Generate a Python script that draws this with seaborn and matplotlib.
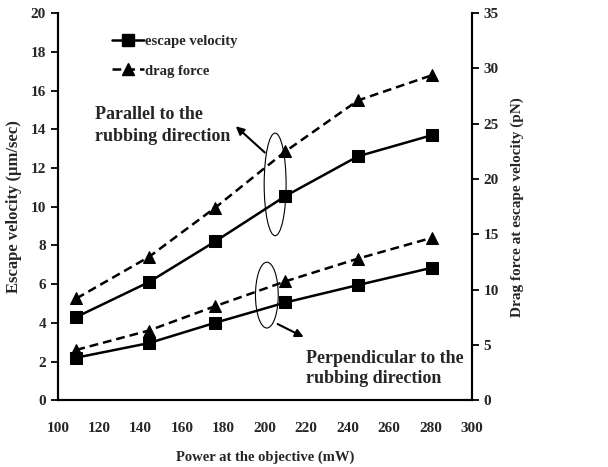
import matplotlib
matplotlib.use('Agg')
import matplotlib.pyplot as plt
import seaborn as sns
from matplotlib.patches import Ellipse
from matplotlib.lines import Line2D

sns.set_theme(style="white")
plt.rcParams['font.family'] = ['Liberation Serif', 'DejaVu Serif']
plt.rcParams['font.weight'] = 'bold'

power = [109, 144, 176, 210, 245, 281]
vel_parallel = [4.3, 6.1, 8.2, 10.55, 12.6, 13.7]
vel_perp = [2.2, 2.95, 4.0, 5.05, 5.95, 6.85]
drag_parallel = [9.2, 12.95, 17.4, 22.5, 27.1, 29.4]
drag_perp = [4.55, 6.3, 8.5, 10.75, 12.8, 14.7]

fig = plt.figure(figsize=(6.08, 4.67), dpi=100)
ax = fig.add_axes([0.095, 0.143, 0.681, 0.829])
ax2 = ax.twinx()

# escape velocity (left axis)
for v in (vel_parallel, vel_perp):
    sns.lineplot(x=power, y=v, ax=ax, color='black', lw=1.8, marker='s',
                 markersize=8, markeredgecolor='black')
# drag force (right axis)
for d in (drag_parallel, drag_perp):
    sns.lineplot(x=power, y=d, ax=ax2, color='black', lw=1.8, ls=(0, (3.5, 2)),
                 marker='^', markersize=8, markeredgecolor='black')

ax.set_xlim(100, 300)
ax.set_ylim(0, 20)
ax2.set_ylim(0, 35)
ax.set_xticks(range(100, 301, 20))
ax.set_yticks(range(0, 21, 2))
ax2.set_yticks(range(0, 36, 5))

for a in (ax, ax2):
    a.spines['top'].set_visible(False)
    for s in a.spines.values():
        s.set_color('black')
        s.set_linewidth(1.5)
    a.tick_params(labelsize=11, length=5, width=1.3, color='black')
ax.tick_params(axis='x', direction='inout', pad=13)
ax.tick_params(axis='y', direction='out')
ax2.tick_params(axis='y', direction='out')
for lab in ax.get_xticklabels() + ax.get_yticklabels() + ax2.get_yticklabels():
    lab.set_fontweight('bold')

ax.set_xlabel('Power at the objective (mW)', fontsize=10.5, fontweight='bold', labelpad=11)
ax.set_ylabel('Escape velocity (μm/sec)', fontsize=12, fontweight='bold', labelpad=6)
ax2.set_ylabel('Drag force at escape velocity (pN)', fontsize=11, fontweight='bold', labelpad=8)

handles = [Line2D([], [], color='black', lw=1.8, marker='s', markersize=8),
           Line2D([], [], color='black', lw=1.8, ls=(0, (3.5, 2)), marker='^', markersize=8)]
ax.legend(handles, ['escape velocity', 'drag force'], loc='upper left',
          bbox_to_anchor=(0.1, 0.977), frameon=False, handlelength=2.2,
          handletextpad=0.05, labelspacing=1.1, prop={'weight': 'bold', 'size': 10.5})

ax.add_patch(Ellipse((205, 11.15), 10.6, 5.3, fill=False, ec='black', lw=0.8))
ax.add_patch(Ellipse((201, 5.43), 11, 3.4, fill=False, ec='black', lw=0.8))

ax.annotate('', xy=(185, 14.25), xytext=(201, 12.7),
            arrowprops=dict(arrowstyle='-|>', color='black', lw=1.5, mutation_scale=12))
ax.annotate('', xy=(220, 3.2), xytext=(205, 4.0),
            arrowprops=dict(arrowstyle='-|>', color='black', lw=1.5, mutation_scale=12))

ax.text(118, 15.2, 'Parallel to the\nrubbing direction', fontsize=13, fontweight='bold',
        va='top', ha='left', linespacing=1.4)
ax.text(220, 2.6, 'Perpendicular to the\nrubbing direction', fontsize=13, fontweight='bold',
        va='top', ha='left', linespacing=1.25)

fig.savefig('out.png', dpi=100)
plt.close(fig)
